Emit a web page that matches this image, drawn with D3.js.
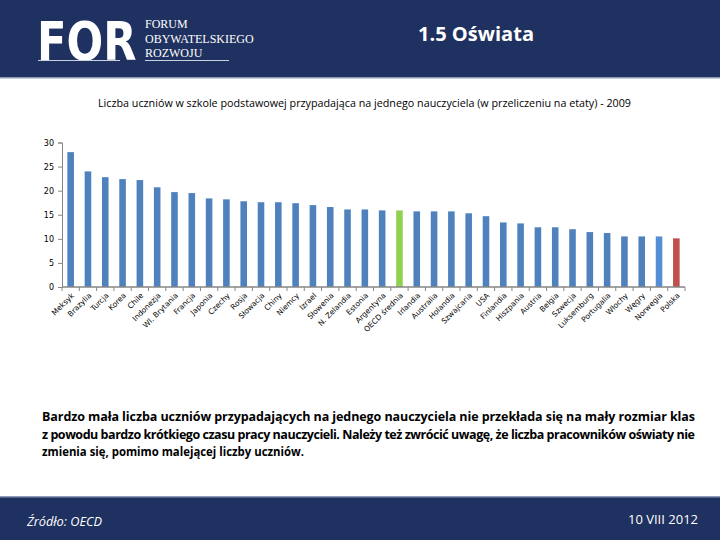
<!DOCTYPE html>
<html><head><meta charset="utf-8">
<script src="https://cdn.jsdelivr.net/npm/d3@7"></script>
<style>body{margin:0;background:#fff}svg{display:block}</style>
</head><body>
<script>
const categories = ["Meksyk","Brazylia","Turcja","Korea","Chile","Indonezja","Wl. Brytania","Francja","Japonia","Czechy","Rosja","Słowacja","Chiny","Niemcy","Izrael","Słowenia","N. Zelandia","Estonia","Argentyna","OECD średnia","Irlandia","Australia","Holandia","Szwajcaria","USA","Finlandia","Hiszpania","Austria","Belgia","Szwecja","Luksemburg","Portugalia","Włochy","Węgry","Norwegia","Polska"];
const values = [28.0,24.0,22.8,22.4,22.2,20.7,19.7,19.5,18.4,18.2,17.8,17.6,17.6,17.4,17.0,16.6,16.1,16.1,15.9,15.9,15.7,15.7,15.7,15.3,14.7,13.4,13.2,12.4,12.4,12.0,11.4,11.2,10.5,10.5,10.5,10.1];
const yTicks = [0,5,10,15,20,25,30];
const highlight = {"OECD średnia":"#92D050","Polska":"#C0504D","Norwegia":"#558ED5"};

const W=720,H=540;
const svg=d3.select("body").append("svg").attr("width",W).attr("height",H);
const navy="#1F3160";
// header
svg.append("rect").attr("x",0).attr("y",0).attr("width",W).attr("height",77).attr("fill",navy);
svg.append("rect").attr("x",0).attr("y",77).attr("width",W).attr("height",1.5).attr("fill","#8E9AB8");
svg.append("text").attr("transform","translate(37,60) scale(0.8,1)").attr("fill","#fff").attr("font-family","DejaVu Sans").attr("font-weight","bold").attr("font-size",54).text("FOR");
svg.append("line").attr("x1",38).attr("x2",120).attr("y1",60.5).attr("y2",60.5).attr("stroke","#c9d0e0").attr("stroke-width",1);
svg.append("line").attr("x1",145).attr("x2",229).attr("y1",60.5).attr("y2",60.5).attr("stroke","#c9d0e0").attr("stroke-width",1);
[["FORUM",28],["OBYWATELSKIEGO",43],["ROZWOJU",57]].forEach(([t,y])=>{
  svg.append("text").attr("x",145).attr("y",y).attr("fill","#fff").attr("font-family","Liberation Serif").attr("font-size",12).text(t);
});
svg.append("text").attr("x",418).attr("y",41).attr("fill","#fff").attr("font-family","Open Sans").attr("font-weight","bold").attr("font-size",19).attr("textLength",116).attr("lengthAdjust","spacingAndGlyphs").text("1.5 Oświata");

// subtitle
svg.append("text").attr("x",98).attr("y",107).attr("fill","#000").attr("font-family","Open Sans").attr("font-size",10).attr("textLength",533).attr("lengthAdjust","spacingAndGlyphs").text("Liczba uczniów w szkole podstawowej przypadająca na jednego nauczyciela (w przeliczeniu na etaty) - 2009");

// chart
const x0=62,x1=685,y0=287,y1=142.5;
const x=d3.scaleBand().domain(categories).range([x0,x1]).paddingInner(0.62).paddingOuter(0.31);
const y=d3.scaleLinear().domain([0,30]).range([y0,y1]);
const g=svg.append("g");
g.selectAll("rect.bar").data(categories).join("rect").attr("class","bar")
 .attr("x",d=>x(d)).attr("width",x.bandwidth())
 .attr("y",(d,i)=>y(values[i])).attr("height",(d,i)=>y0-y(values[i]))
 .attr("fill",d=>highlight[d]||"#4F81BD");
const ya=g.append("g").attr("transform",`translate(${x0},0)`).call(d3.axisLeft(y).tickValues(yTicks).tickSize(4).tickPadding(4));
ya.select(".domain").attr("stroke","#868686");
ya.selectAll(".tick line").attr("stroke","#868686");
ya.selectAll("text").attr("font-family","DejaVu Sans").attr("font-size",8).attr("fill","#000");
const xa=g.append("g").attr("transform",`translate(0,${y0})`);
xa.append("line").attr("x1",x0).attr("x2",x1).attr("stroke","#868686").attr("stroke-width",1.5);
const bounds=d3.range(categories.length+1).map(i=>x0+ (x1-x0)*i/categories.length);
xa.selectAll("line.tk").data(bounds).join("line").attr("class","tk").attr("x1",d=>d).attr("x2",d=>d).attr("y1",0).attr("y2",4).attr("stroke","#868686");
xa.selectAll("text").data(categories).join("text")
 .attr("transform",d=>`translate(${x(d)+x.bandwidth()/2+4},${9}) rotate(-45)`)
 .attr("text-anchor","end").attr("font-family","DejaVu Sans").attr("font-size",7.5).attr("fill","#000").text(d=>d);

// paragraph
const lines=[["Bardzo mała liczba uczniów przypadających na jednego nauczyciela nie przekłada się na mały rozmiar klas",true,421],
["z powodu bardzo krótkiego czasu pracy nauczycieli. Należy też zwrócić uwagę, że liczba pracowników oświaty nie",true,439],
["zmienia się, pomimo malejącej liczby uczniów.",false,456]];
lines.forEach(([t,j,yy])=>{
  const tx=svg.append("text").attr("x",42).attr("y",yy).attr("fill","#000").attr("font-family","Liberation Sans Narrow, Open Sans").attr("font-size",12.5).attr("font-weight","bold").text(t);
  if(j) tx.attr("textLength",653).attr("lengthAdjust","spacing");
  else tx.attr("textLength",262).attr("lengthAdjust","spacingAndGlyphs");
});

// footer
svg.append("rect").attr("x",0).attr("y",497).attr("width",W).attr("height",43).attr("fill",navy);
svg.append("rect").attr("x",0).attr("y",496).attr("width",W).attr("height",1.5).attr("fill","#8E9AB8");
svg.append("text").attr("x",27).attr("y",526).attr("fill","#fff").attr("font-family","Liberation Sans Narrow, Open Sans").attr("font-style","italic").attr("font-size",12).attr("textLength",75).attr("lengthAdjust","spacingAndGlyphs").text("Źródło: OECD");
svg.append("text").attr("x",628).attr("y",524).attr("fill","#fff").attr("font-family","Liberation Sans Narrow, Open Sans").attr("font-size",12.5).attr("textLength",70).attr("lengthAdjust","spacingAndGlyphs").text("10 VIII 2012");
</script>
</body></html>
